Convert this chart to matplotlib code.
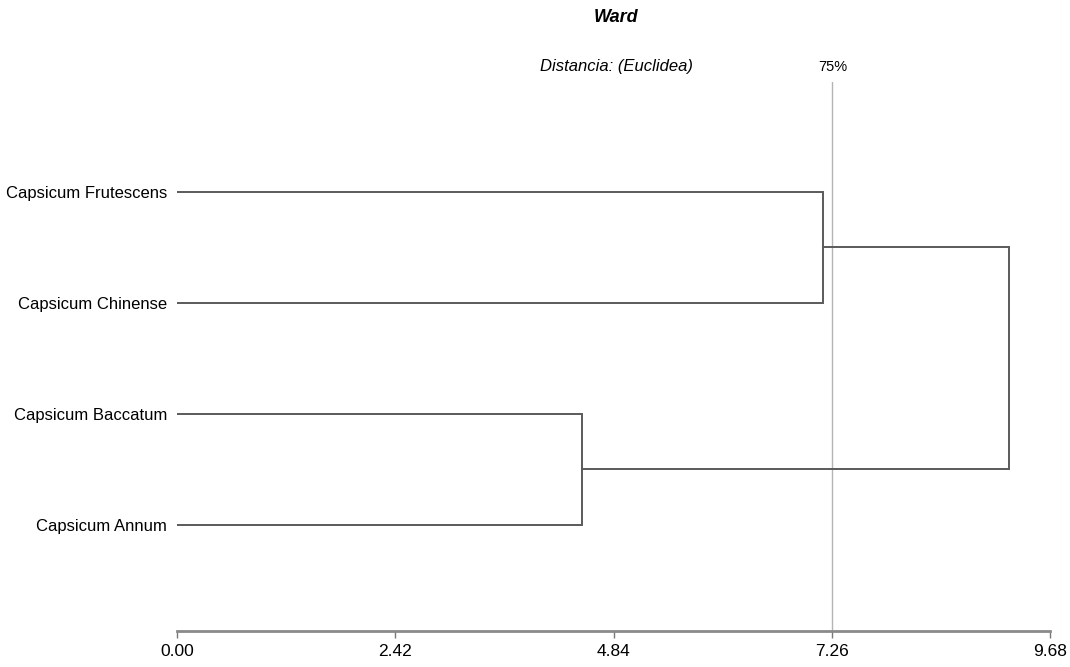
import numpy as np
import matplotlib
matplotlib.use('Agg')
import matplotlib.pyplot as plt

plt.rcParams['font.family'] = ['Liberation Sans', 'DejaVu Sans']

# leaves, top to bottom
leaves = ['Capsicum Frutescens', 'Capsicum Chinense', 'Capsicum Baccatum', 'Capsicum Annum']
# merges: pairs of leaf indices and heights (last one joins the two clusters)
merge_a = [0, 1]
merge_b = [2, 3]
merge_heights = [7.16, 4.49, 9.23]
x_ticks = [0.00, 2.42, 4.84, 7.26, 9.68]
cut_level = 7.26
cut_label = '75%'

line_col = '#5a5a5a'

fig = plt.figure(figsize=(10.7, 6.67), dpi=100)
ax = fig.add_axes([177 / 1070, 1 - 631 / 667, (1050 - 177) / 1070, (631 - 82) / 667])

ypos = np.arange(len(leaves))

def draw_link(ya, yb, xa, xb, h):
    ax.plot([xa, h, h, xb], [ya, ya, yb, yb], color=line_col, lw=1.4,
            solid_joinstyle='miter', zorder=3)

# first cluster
h1 = merge_heights[0]
draw_link(ypos[merge_a[0]], ypos[merge_a[1]], 0, 0, h1)
c1 = (ypos[merge_a[0]] + ypos[merge_a[1]]) / 2
# second cluster
h2 = merge_heights[1]
draw_link(ypos[merge_b[0]], ypos[merge_b[1]], 0, 0, h2)
c2 = (ypos[merge_b[0]] + ypos[merge_b[1]]) / 2
# root
draw_link(c1, c2, h1, h2, merge_heights[2])

ax.axvline(cut_level, color='#b4b4b4', lw=1.0, zorder=2)

ax.set_xlim(x_ticks[0], x_ticks[-1])
ax.set_ylim(3.955, -0.99)

ax.set_yticks(ypos)
ax.set_yticklabels(leaves, fontsize=12)
ax.tick_params(axis='y', length=0, pad=7)

ax.set_xticks(x_ticks)
ax.set_xticklabels(['%.2f' % t for t in x_ticks], fontsize=12.5)
ax.tick_params(axis='x', length=5, width=1, color='#777777', pad=4)

for s in ['top', 'right', 'left']:
    ax.spines[s].set_visible(False)
ax.spines['bottom'].set_color('#8a8a8a')
ax.spines['bottom'].set_linewidth(2)

fig.text(616 / 1070, 1 - 17 / 667, 'Ward', ha='center', va='center',
         fontsize=13, fontstyle='italic', fontweight='bold')
fig.text(616 / 1070, 1 - 67 / 667, 'Distancia: (Euclidea)', ha='center', va='center',
         fontsize=12, fontstyle='italic')
fig.text(833 / 1070, 1 - 67 / 667, cut_label, ha='center', va='center', fontsize=10.5)

fig.savefig('out.png', dpi=100)
